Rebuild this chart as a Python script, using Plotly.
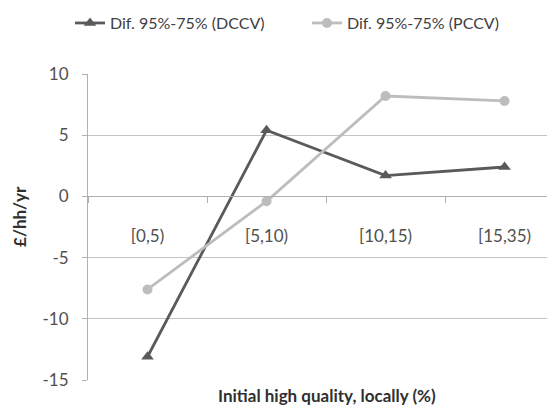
import plotly.graph_objects as go

categories = ["[0,5)", "[5,10)", "[10,15)", "[15,35)"]
dccv = [-13.1, 5.4, 1.7, 2.4]
pccv = [-7.6, -0.4, 8.2, 7.8]
y_ticks = [-15, -10, -5, 0, 5, 10]
y_tick_text = [str(v) for v in y_ticks]

FONT = "Lato"
fig = go.Figure()
fig.add_trace(go.Scatter(
    x=categories, y=dccv, name="Dif. 95%-75% (DCCV)", mode="lines+markers",
    line=dict(color="#5a5a5a", width=2.8), legend="legend", showlegend=True,
    marker=dict(symbol="triangle-up", size=11, color="#5a5a5a")))
fig.add_trace(go.Scatter(
    x=categories, y=pccv, name="Dif. 95%-75% (PCCV)", mode="lines+markers",
    line=dict(color="#bdbdbd", width=2.8), legend="legend2", showlegend=True,
    marker=dict(symbol="circle", size=10, color="#bdbdbd")))

leg_common = dict(orientation="h", xanchor="left", yanchor="top",
                  font=dict(family=FONT, size=16, color="#404040"),
                  bgcolor="rgba(0,0,0,0)")
fig.update_layout(
    width=547, height=403, showlegend=True,
    margin=dict(l=80, r=0, t=66, b=31, autoexpand=False),
    paper_bgcolor="white", plot_bgcolor="white",
    font=dict(family=FONT, size=17, color="#505050"),
    legend=dict(x=-0.0385, y=1.222, visible=True, **leg_common),
    legend2=dict(x=0.469, y=1.222, visible=True, **leg_common),
    xaxis=dict(
        type="category", range=[-0.5, 3.424], anchor="free", position=0.6,
        showline=True, linecolor="#b0b0b0", linewidth=1,
        ticks="outside", tickson="boundaries", ticklen=6, tickcolor="#b0b0b0",
        ticklabelstandoff=24, tickfont=dict(size=17, color="#505050"),
        showgrid=False, zeroline=False),
    yaxis=dict(
        range=[-15, 10], tickvals=y_ticks, ticktext=y_tick_text,
        showline=True, linecolor="#b0b0b0",
        linewidth=1, ticks="outside", ticklen=5, tickcolor="#b0b0b0",
        showgrid=True, gridcolor="#c4c4c4", gridwidth=1, zeroline=False,
        tickfont=dict(size=17, color="#505050"), ticklabelstandoff=10),
    annotations=[
        dict(text="<b>Initial high quality, locally (%)</b>", xref="paper", yref="paper",
             x=0.512, y=0, yshift=-15, showarrow=False, xanchor="center", yanchor="middle",
             font=dict(size=17, color="#303030")),
        dict(text="<b>£/hh/yr</b>", xref="paper", yref="paper", x=0, xshift=-68,
             y=0.533, showarrow=False, textangle=-90, xanchor="center",
             yanchor="middle", font=dict(size=17, color="#303030")),
    ],
)

fig.write_html("out.html")
